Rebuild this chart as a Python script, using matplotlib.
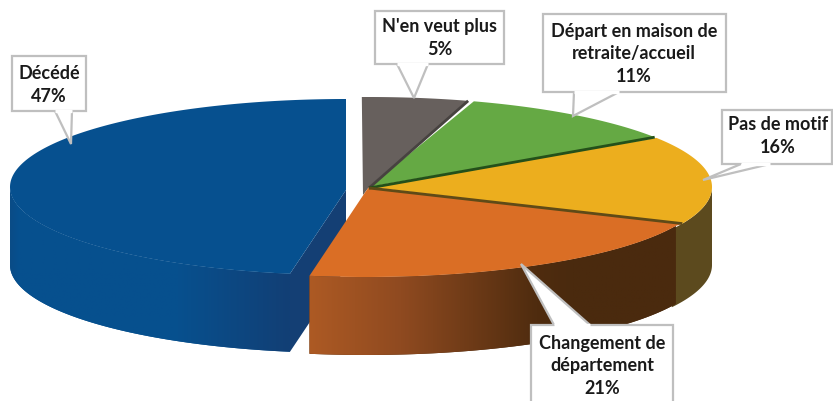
import numpy as np
import matplotlib
matplotlib.use("Agg")
import matplotlib.pyplot as plt
from matplotlib.colors import LinearSegmentedColormap
from matplotlib.patches import Polygon

labels = ["N'en veut plus", "Départ en maison de\nretraite/accueil", "Pas de motif",
          "Changement de\ndépartement", "Décédé"]
values = [5, 11, 16, 21, 47]
colors = ["#67605d", "#65a944", "#ecae1e", "#da6e25", "#06508f"]

# pie geometry in pixels
start = -1.2
depth = 78
centers = [(369, 187), (369, 187), (369, 187), (366, 191), (346, 187)]
radii = [(343, 90), (343, 90), (343, 90), (339, 86), (336, 88)]
pads = [0, 1.0, 0.5, 0, 0]

# callouts: box (x0, y0, x1, y1), tail (base left, tip, base right)
boxes = [(375, 11, 504, 64), (543, 14, 726, 92), (722, 110, 832, 164),
         (531, 325, 673, 410), (12, 56, 86, 111)]
tails = [((397, 64), (414, 98), (428, 64)), ((574, 92), (573, 116), (619, 92)),
         ((741, 164), (703, 180), (770, 164)), ((554, 325), (521, 264), (590, 325)),
         ((55, 111), (71, 144), (72, 111))]
text_pos = [(440, 38), (634, 54), (778, 136), (602, 366), (49, 85)]

plt.rcParams["font.family"] = ["Lato", "DejaVu Sans"]

fig = plt.figure(figsize=(8.33, 4.01), dpi=100)
ax = fig.add_axes([0, 0, 1, 1])


def arc(c, r, t1, t2, dy=0):
    t = np.radians(np.linspace(t1, t2, 200))
    return np.column_stack([c[0] + r[0] * np.sin(t), c[1] + dy - r[1] * np.cos(t)])


def side(c, r, t1, t2, col1, stops=None, z=1):
    pts = np.vstack([arc(c, r, t1, t2), arc(c, r, t1, t2, depth)[::-1]])
    poly = Polygon(pts, closed=True, fc=col1, ec="none", zorder=z)
    ax.add_patch(poly)
    if stops is not None:
        cmap = LinearSegmentedColormap.from_list("s", stops)
        x0, x1 = pts[:, 0].min(), pts[:, 0].max()
        y0, y1 = pts[:, 1].min(), pts[:, 1].max()
        im = ax.imshow(np.linspace(0, 1, 256).reshape(1, -1), cmap=cmap, aspect="auto",
                       extent=[x0, x1, y1, y0], zorder=z)
        im.set_clip_path(poly)


edges = start + np.cumsum([0] + [v * 3.6 for v in values])
t1s, t2s = edges[:-1], edges[1:]
t2s[-1] = 360  # blue slice ends on the vertical edge

# blue slice, pulled out to the left
c, r = centers[4], radii[4]
tip = arc(c, r, t1s[4], t1s[4] + 0.01)[0]
ax.add_patch(Polygon([(c[0], c[1] + 3), tip, (tip[0], tip[1] + depth), (c[0], c[1] + 3 + depth)],
                     fc="#143f74", ec="none", zorder=2))
side(c, r, t1s[4], 270, colors[4],
     stops=[(0, "#0a4c86"), (0.03, "#06508f"), (0.6, "#07508e"), (1, "#123f75")], z=2)
ax.add_patch(Polygon(np.vstack([[(c[0], c[1] + 3)], arc(c, r, t1s[4], t2s[4])]),
                     fc=colors[4], ec="none", zorder=3))

# yellow and orange walls
side(centers[2], radii[2], 90, t2s[2] + 4, "#5c4a1e", z=4)
side(centers[3], radii[3], t1s[3], t2s[3], "#4a2a0e",
     stops=[(0, "#ad5a24"), (0.25, "#8f4a20"), (0.62, "#4f2c0f"), (0.72, "#4a2a0e"), (1, "#4a2a0e")], z=5)

# top faces
yellow_end = arc(centers[2], radii[2], t2s[2], t2s[2] + 0.01)[0]
orange = np.vstack([[centers[2]], [yellow_end], arc(centers[3], radii[3], t1s[3], t2s[3]), [centers[3]]])
ax.add_patch(Polygon(orange, fc=colors[3], ec="none", zorder=6))
grey = np.vstack([[centers[0]], [(centers[0][0] - 6, centers[0][1] + 8)],
                  arc(centers[0], radii[0], t1s[0], t2s[0])])
ax.add_patch(Polygon(grey, fc=colors[0], ec="none", zorder=5.5))
for i in [1, 2]:
    pts = np.vstack([[centers[i]], arc(centers[i], radii[i], t1s[i] + pads[i], t2s[i])])
    ax.add_patch(Polygon(pts, fc=colors[i], ec="none", zorder=7))

# dark seams between slices
seams = ["#474240", "#24501a", "#5f4a17"]
for i in range(3):
    p = arc(centers[i], radii[i], t2s[i], t2s[i] + 0.01)[0]
    ax.plot([centers[i][0], p[0]], [centers[i][1] + 1, p[1]], color=seams[i], lw=2.0,
            solid_capstyle="butt", zorder=8)

# callouts
for box, tail, lab, val, pos in zip(boxes, tails, labels, values, text_pos):
    x0, y0, x1, y1 = box
    ax.add_patch(Polygon([(x0, y0), (x1, y0), (x1, y1), (x0, y1)], fc="white", ec="#bfbfbf",
                         lw=1.6, zorder=9))
    ax.add_patch(Polygon(tail, closed=False, fc="white", ec="#bfbfbf", lw=1.6, zorder=10))
    ax.plot(*zip(tail[0], tail[2]), color="white", lw=2.4, zorder=11, solid_capstyle="butt")
    ax.text(pos[0], pos[1], f"{lab}\n{val}%", ha="center", va="center", fontsize=13,
            fontweight="bold", color="#1a1a1a", linespacing=1.42, zorder=12)

ax.set_xlim(0, 833)
ax.set_ylim(401, 0)
ax.axis("off")
fig.savefig("out.png", dpi=100)
